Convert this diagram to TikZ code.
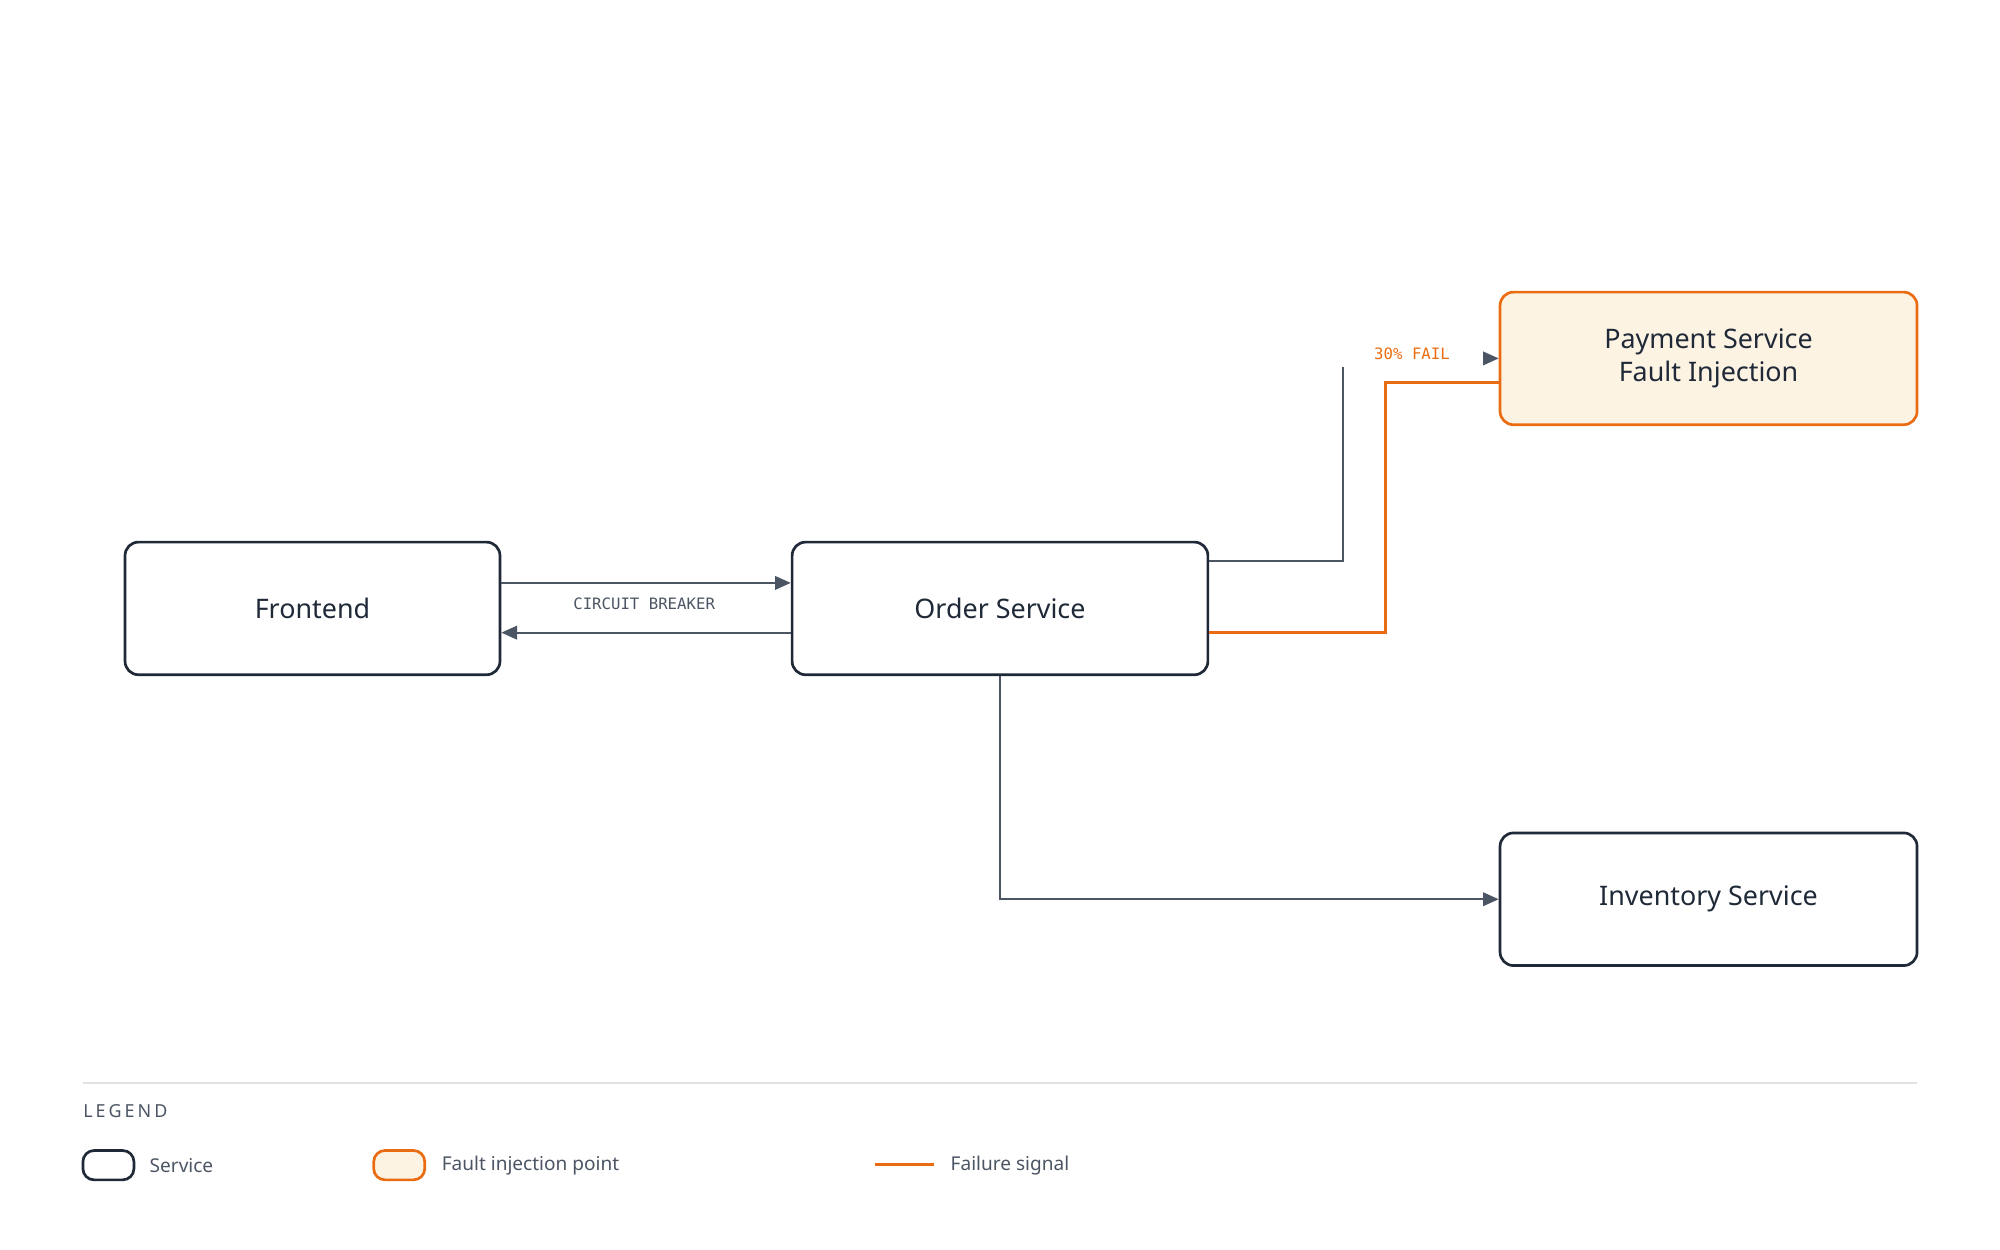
\documentclass[tikz,border=0pt]{standalone}
\usepackage{fontspec}
\setmainfont{Noto Sans}
\setmonofont{DejaVu Sans Mono}
\usetikzlibrary{arrows.meta}
\definecolor{ink}{HTML}{1F2937}
\definecolor{wire}{HTML}{4B5563}
\definecolor{fault}{HTML}{EA6C12}
\definecolor{faultbg}{HTML}{FDF3E3}
\tikzset{
  svc/.style={draw=ink, line width=1.2pt, rounded corners=6pt, fill=white, font=\fontsize{12}{15}\selectfont\bfseries, text=ink, align=center},
  inj/.style={svc, draw=fault, fill=faultbg},
  link/.style={draw=wire, line width=1pt, -{Triangle[length=7pt,width=6pt]}},
  fail/.style={draw=fault, line width=1.2pt},
  tag/.style={font=\ttfamily\fontsize{7}{8}\selectfont}
}
\begin{document}
\begin{tikzpicture}[x=0.02cm, y=-0.02cm]
\useasboundingbox (0,0) rectangle (1568,980);

% services
\node[svc, minimum width=5.88cm, minimum height=2.08cm] (front) at (245,477) {Frontend};
\node[svc, minimum width=6.52cm, minimum height=2.08cm] (order) at (784,477) {Order Service};
\node[inj, minimum width=6.54cm, minimum height=2.08cm] (pay) at (1339.5,281) {Payment Service\\Fault Injection};
\node[svc, minimum width=6.54cm, minimum height=2.08cm] (inv) at (1339.5,705) {Inventory Service};

% circuit breaker pair
\draw[link] (front.east |- 0,457) -- (order.west |- 0,457);
\draw[link] (order.west |- 0,496) -- (front.east |- 0,496);
\node[tag, text=wire] (cb) at (505,473) {CIRCUIT BREAKER};

% order -> payment
\coordinate (stub) at (1053,288);
\coordinate (tip) at (1166,281);
\draw[wire, line width=1pt] (order.east |- 0,440) -- (1053,440) -- (stub);
\draw[link] (tip) -- (pay.west |- tip);
\draw[fail] (order.east |- 0,496) -- (1086,496) -- (1086,300) -- (pay.west |- 0,300);
\node[tag, text=fault] (pct) at (1107,277) {30\% FAIL};

% order -> inventory
\draw[link] (order.south) |- (inv.west);

% legend
\draw[black!12, line width=0.6pt] (65,849) -- (1503,849);
\node[anchor=west, inner sep=0, font=\fontsize{8}{9}\selectfont, text=wire] (lg) at (65,871) {L\,E\,G\,E\,N\,D};
\draw[ink, line width=1.2pt, rounded corners=5pt] (65,902) rectangle (105,925);
\node[anchor=west, inner sep=0, font=\fontsize{8.5}{10}\selectfont, text=wire] (l1) at (117,914) {Service};
\draw[fault, fill=faultbg, line width=1.2pt, rounded corners=5pt] (293,902) rectangle (333,925);
\node[anchor=west, inner sep=0, font=\fontsize{8.5}{10}\selectfont, text=wire] (l2) at (346,914) {Fault injection point};
\draw[fail] (686,913) -- (732,913);
\node[anchor=west, inner sep=0, font=\fontsize{8.5}{10}\selectfont, text=wire] (l3) at (745,914) {Failure signal};
\end{tikzpicture}
\end{document}
